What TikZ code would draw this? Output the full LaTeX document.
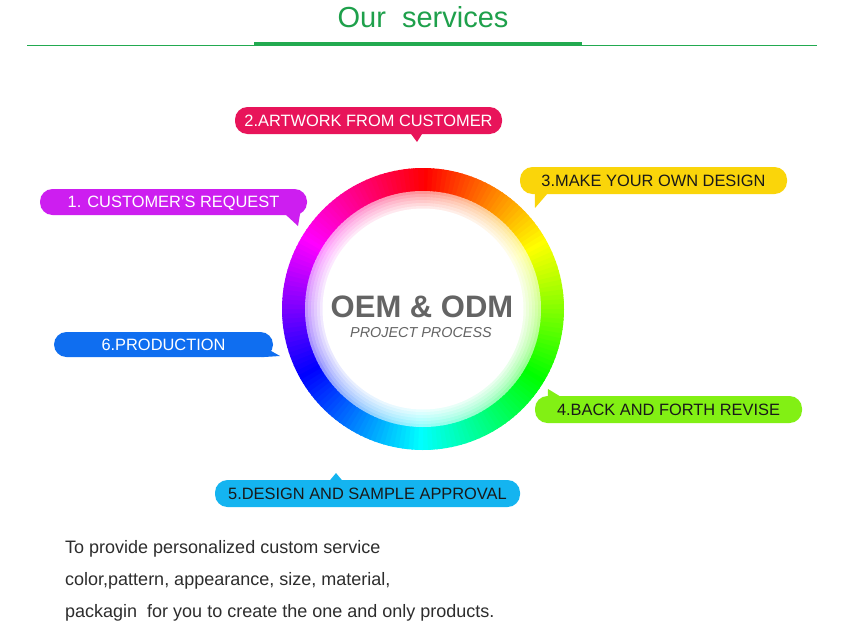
\documentclass[tikz,border=0pt]{standalone}
\usepackage{fontspec}
\setmainfont{Liberation Sans}
\usetikzlibrary{calc}
\definecolor{titlegreen}{RGB}{30,160,75}
\definecolor{linegreen}{RGB}{34,170,80}
\definecolor{cOne}{RGB}{205,30,240}
\definecolor{cTwo}{RGB}{232,20,90}
\definecolor{cThree}{RGB}{250,213,10}
\definecolor{cFour}{RGB}{130,240,20}
\definecolor{cFive}{RGB}{20,180,240}
\definecolor{cSix}{RGB}{15,110,240}
\definecolor{darktext}{RGB}{25,25,25}
\definecolor{centergray}{RGB}{100,100,100}
\definecolor{bodytext}{RGB}{45,45,45}
\begin{document}
\begin{tikzpicture}[x=1pt,y=-1pt,
  bubble/.style={rounded corners=12.5pt, inner sep=0pt, minimum height=27pt,
    text height=11.8pt, text depth=0pt,
    font=\fontsize{16.4}{18}\selectfont, align=center},
  bodyline/.style={anchor=base west, inner sep=0pt, text=bodytext,
    font=\fontsize{18}{20}\selectfont}
]
\useasboundingbox (0,0) rectangle (846,640);
\fill[white] (0,0) rectangle (846,640);

% title
\node[anchor=base, inner sep=0pt, text=titlegreen,
  font=\fontsize{29}{32}\selectfont] (title) at (423,27) {Our\ \ services};
\draw[linegreen, line width=1pt] (27,45.5) -- (817,45.5);
\draw[linegreen, line width=3.5pt] (254,43.3) -- (582,43.3);

% colour ring
\coordinate (c) at (423,309);
\foreach \h [evaluate=\h as \a using \h-90] in {0,2,...,358}{
  \definecolor{hc}{Hsb}{\h,1,1}
  \fill[hc] (c) -- ++(\a:141) arc[start angle=\a, end angle=\a+2.5, radius=141] -- cycle;
}
\foreach \r/\s in {118/0.42,115/0.34,112/0.27,109/0.21,106/0.15,103/0.09}{
  \foreach \h [evaluate=\h as \a using \h-90] in {0,2,...,358}{
    \definecolor{hc}{Hsb}{\h,\s,1}
    \fill[hc] (c) -- ++(\a:\r) arc[start angle=\a, end angle=\a+2.5, radius=\r] -- cycle;
  }
}
\fill[white] (c) circle[radius=100.5];

\node[anchor=base, inner sep=0pt, text=centergray,
  font=\bfseries\fontsize{31}{34}\selectfont] (oem) at (422,317) {OEM \& ODM};
\node[anchor=base, inner sep=0pt, text=centergray,
  font=\itshape\fontsize{14.4}{16}\selectfont] (proc) at (421,337) {PROJECT PROCESS};

% bubbles
\node[bubble, fill=cOne, text=white, minimum width=267pt, minimum height=26pt] (b1) at (173.5,202) {1. CUSTOMER’S REQUEST};
\node[bubble, fill=cTwo, text=white, minimum width=267pt] (b2) at (368.5,120.5) {2.ARTWORK FROM CUSTOMER};
\node[bubble, fill=cThree, text=darktext, minimum width=267pt] (b3) at (653.5,180.5) {3.MAKE YOUR OWN DESIGN};
\node[bubble, fill=cFour, text=darktext, minimum width=267pt] (b4) at (668.5,409.5) {4.BACK AND FORTH REVISE};
\node[bubble, fill=cFive, text=darktext, minimum width=305pt] (b5) at (367.5,493.5) {5.DESIGN AND SAMPLE APPROVAL};
\node[bubble, fill=cSix, text=white, minimum width=219pt, minimum height=25pt] (b6) at (163.5,344.5) {6.PRODUCTION};

% tails
\coordinate (t1) at (298,226);
\coordinate (t2) at (417,142);
\coordinate (t3) at (535,208);
\coordinate (t4) at (548,389);
\coordinate (t5) at (336,473);
\coordinate (t6) at (280,356);
\fill[cOne] ($(b1.south east)+(-22,-1)$) -- (t1) -- ($(b1.south east)+(-6,-8)$) -- cycle;
\fill[cTwo] ($(b2.south)+(42,-1)$) -- (t2) -- ($(b2.south)+(54,-1)$) -- cycle;
\fill[cThree] ($(b3.south west)+(15,-1)$) -- (t3) -- ($(b3.south west)+(28,-1)$) -- cycle;
\fill[cFour] ($(b4.north west)+(13,1)$) -- (t4) -- ($(b4.north west)+(26,1)$) -- cycle;
\fill[cFive] ($(b5.north)+(-38,1)$) -- (t5) -- ($(b5.north)+(-25,1)$) -- cycle;
\fill[cSix] ($(b6.south east)+(-7,-9)$) -- (t6) -- ($(b6.south east)+(-12,0)$) -- cycle;

% body text
\node[bodyline] (l1) at (65,553) {To provide personalized custom service};
\node[bodyline] (l2) at (65,585) {color,pattern, appearance, size, material,};
\node[bodyline] (l3) at (65,617) {packagin\ \ for you to create the one and only products.};
\end{tikzpicture}
\end{document}
